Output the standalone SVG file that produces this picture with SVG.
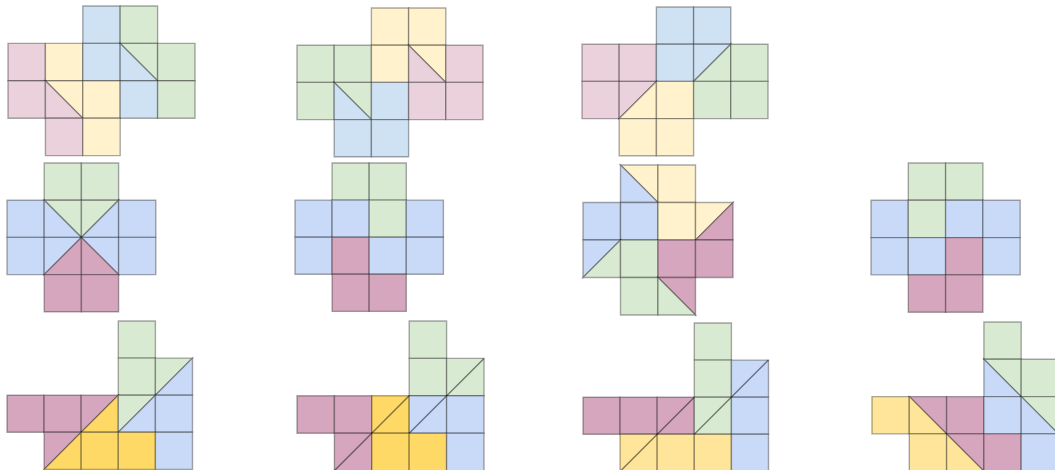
<svg xmlns="http://www.w3.org/2000/svg" width="1055" height="470" viewBox="0 0 1055 470">
<style>
rect, polygon, line { stroke:#000; stroke-opacity:.33; stroke-width:1.4; vector-effect:non-scaling-stroke; }
line { stroke-opacity:.48; }
.p1{fill:#ead1dc}.y1{fill:#fff2cc}.b1{fill:#cfe2f3}.g{fill:#d9ead3}
.b2{fill:#c9daf8}.p2{fill:#d5a6bd}.gd{fill:#ffd966}.y2{fill:#ffe599}
</style>
<rect x="0" y="0" width="1055" height="470" fill="#ffffff" style="stroke:none"/>

<g id="figA" transform="translate(8,6) scale(37.4)">
<rect x="2" y="0" width="1" height="1" class="b1"/><rect x="3" y="0" width="1" height="1" class="g"/>
<rect x="0" y="1" width="1" height="1" class="p1"/><rect x="1" y="1" width="1" height="1" class="y1"/><rect x="2" y="1" width="1" height="1" class="b1"/>
<polygon points="3,1 4,1 4,2" class="g"/><polygon points="3,1 3,2 4,2" class="b1"/>
<rect x="4" y="1" width="1" height="1" class="g"/>
<rect x="0" y="2" width="1" height="1" class="p1"/>
<polygon points="1,2 2,2 2,3" class="y1"/><polygon points="1,2 1,3 2,3" class="p1"/>
<rect x="2" y="2" width="1" height="1" class="y1"/><rect x="3" y="2" width="1" height="1" class="b1"/><rect x="4" y="2" width="1" height="1" class="g"/>
<rect x="1" y="3" width="1" height="1" class="p1"/><rect x="2" y="3" width="1" height="1" class="y1"/>
</g>

<g id="figB" transform="translate(297,8) scale(37.2)">
<rect x="2" y="0" width="1" height="1" class="y1"/><rect x="3" y="0" width="1" height="1" class="y1"/>
<rect x="0" y="1" width="1" height="1" class="g"/><rect x="1" y="1" width="1" height="1" class="g"/><rect x="2" y="1" width="1" height="1" class="y1"/>
<polygon points="3,1 4,1 4,2" class="y1"/><polygon points="3,1 3,2 4,2" class="p1"/>
<rect x="4" y="1" width="1" height="1" class="p1"/>
<rect x="0" y="2" width="1" height="1" class="g"/>
<polygon points="1,2 2,2 2,3" class="g"/><polygon points="1,2 1,3 2,3" class="b1"/>
<rect x="2" y="2" width="1" height="1" class="b1"/><rect x="3" y="2" width="1" height="1" class="p1"/><rect x="4" y="2" width="1" height="1" class="p1"/>
<rect x="1" y="3" width="1" height="1" class="b1"/><rect x="2" y="3" width="1" height="1" class="b1"/>
</g>

<g id="figC" transform="translate(582,7) scale(37.2)">
<rect x="2" y="0" width="1" height="1" class="b1"/><rect x="3" y="0" width="1" height="1" class="b1"/>
<rect x="0" y="1" width="1" height="1" class="p1"/><rect x="1" y="1" width="1" height="1" class="p1"/><rect x="2" y="1" width="1" height="1" class="b1"/>
<polygon points="3,1 4,1 3,2" class="b1"/><polygon points="4,1 4,2 3,2" class="g"/>
<rect x="4" y="1" width="1" height="1" class="g"/>
<rect x="0" y="2" width="1" height="1" class="p1"/>
<polygon points="1,2 2,2 1,3" class="p1"/><polygon points="2,2 2,3 1,3" class="y1"/>
<rect x="2" y="2" width="1" height="1" class="y1"/><rect x="3" y="2" width="1" height="1" class="g"/><rect x="4" y="2" width="1" height="1" class="g"/>
<rect x="1" y="3" width="1" height="1" class="y1"/><rect x="2" y="3" width="1" height="1" class="y1"/>
</g>

<g id="figD" transform="translate(7,163) scale(37.2)">
<rect x="1" y="0" width="1" height="1" class="g"/><rect x="2" y="0" width="1" height="1" class="g"/>
<rect x="0" y="1" width="1" height="1" class="b2"/>
<polygon points="1,1 2,1 2,2" class="g"/><polygon points="1,1 1,2 2,2" class="b2"/>
<polygon points="2,1 3,1 2,2" class="g"/><polygon points="3,1 3,2 2,2" class="b2"/>
<rect x="3" y="1" width="1" height="1" class="b2"/>
<rect x="0" y="2" width="1" height="1" class="b2"/>
<polygon points="1,2 2,2 1,3" class="b2"/><polygon points="2,2 2,3 1,3" class="p2"/>
<polygon points="2,2 3,2 3,3" class="b2"/><polygon points="2,2 2,3 3,3" class="p2"/>
<rect x="3" y="2" width="1" height="1" class="b2"/>
<rect x="1" y="3" width="1" height="1" class="p2"/><rect x="2" y="3" width="1" height="1" class="p2"/>
</g>

<g id="figE" transform="translate(295,163) scale(37.1)">
<rect x="1" y="0" width="1" height="1" class="g"/><rect x="2" y="0" width="1" height="1" class="g"/>
<rect x="0" y="1" width="1" height="1" class="b2"/><rect x="1" y="1" width="1" height="1" class="b2"/><rect x="2" y="1" width="1" height="1" class="g"/><rect x="3" y="1" width="1" height="1" class="b2"/>
<rect x="0" y="2" width="1" height="1" class="b2"/><rect x="1" y="2" width="1" height="1" class="p2"/><rect x="2" y="2" width="1" height="1" class="b2"/><rect x="3" y="2" width="1" height="1" class="b2"/>
<rect x="1" y="3" width="1" height="1" class="p2"/><rect x="2" y="3" width="1" height="1" class="p2"/>
</g>

<g id="figF" transform="translate(583,165) scale(37.5)">
<polygon points="1,0 2,0 2,1" class="y1"/><polygon points="1,0 1,1 2,1" class="b2"/>
<rect x="2" y="0" width="1" height="1" class="y1"/>
<rect x="0" y="1" width="1" height="1" class="b2"/><rect x="1" y="1" width="1" height="1" class="b2"/><rect x="2" y="1" width="1" height="1" class="y1"/>
<polygon points="3,1 4,1 3,2" class="y1"/><polygon points="4,1 4,2 3,2" class="p2"/>
<polygon points="0,2 1,2 0,3" class="b2"/><polygon points="1,2 1,3 0,3" class="g"/>
<rect x="1" y="2" width="1" height="1" class="g"/><rect x="2" y="2" width="1" height="1" class="p2"/><rect x="3" y="2" width="1" height="1" class="p2"/>
<rect x="1" y="3" width="1" height="1" class="g"/>
<polygon points="2,3 3,3 3,4" class="p2"/><polygon points="2,3 2,4 3,4" class="g"/>
</g>

<g id="figG" transform="translate(871,163) scale(37.3)">
<rect x="1" y="0" width="1" height="1" class="g"/><rect x="2" y="0" width="1" height="1" class="g"/>
<rect x="0" y="1" width="1" height="1" class="b2"/><rect x="1" y="1" width="1" height="1" class="g"/><rect x="2" y="1" width="1" height="1" class="b2"/><rect x="3" y="1" width="1" height="1" class="b2"/>
<rect x="0" y="2" width="1" height="1" class="b2"/><rect x="1" y="2" width="1" height="1" class="b2"/><rect x="2" y="2" width="1" height="1" class="p2"/><rect x="3" y="2" width="1" height="1" class="b2"/>
<rect x="1" y="3" width="1" height="1" class="p2"/><rect x="2" y="3" width="1" height="1" class="p2"/>
</g>

<g id="figH" transform="translate(7,321) scale(37.1)">
<rect x="3" y="0" width="1" height="1" class="g"/>
<rect x="3" y="1" width="1" height="1" class="g"/>
<polygon points="4,1 5,1 4,2" class="g"/><polygon points="5,1 5,2 4,2" class="b2"/>
<rect x="0" y="2" width="1" height="1" class="p2"/><rect x="1" y="2" width="1" height="1" class="p2"/>
<polygon points="2,2 3,2 2,3" class="p2"/><polygon points="3,2 3,3 2,3" class="gd"/>
<polygon points="3,2 4,2 3,3" class="g"/><polygon points="4,2 4,3 3,3" class="b2"/>
<rect x="4" y="2" width="1" height="1" class="b2"/>
<polygon points="1,3 2,3 1,4" class="p2"/><polygon points="2,3 2,4 1,4" class="gd"/>
<rect x="2" y="3" width="1" height="1" class="gd"/><rect x="3" y="3" width="1" height="1" class="gd"/><rect x="4" y="3" width="1" height="1" class="b2"/>
</g>

<g id="figI" transform="translate(297,321) scale(37.4)">
<rect x="3" y="0" width="1" height="1" class="g"/>
<rect x="3" y="1" width="1" height="1" class="g"/><rect x="4" y="1" width="1" height="1" class="g"/>
<rect x="0" y="2" width="1" height="1" class="p2"/><rect x="1" y="2" width="1" height="1" class="p2"/>
<rect x="2" y="2" width="1" height="1" class="gd"/><rect x="3" y="2" width="1" height="1" class="b2"/><rect x="4" y="2" width="1" height="1" class="b2"/>
<rect x="1" y="3" width="1" height="1" class="p2"/><rect x="2" y="3" width="1" height="1" class="gd"/><rect x="3" y="3" width="1" height="1" class="gd"/><rect x="4" y="3" width="1" height="1" class="b2"/>
<line x1="1" y1="4" x2="3" y2="2"/><line x1="3" y1="3" x2="5" y2="1"/>
</g>

<g id="figJ" transform="translate(583,323) scale(37.1)">
<rect x="3" y="0" width="1" height="1" class="g"/>
<rect x="3" y="1" width="1" height="1" class="g"/><rect x="4" y="1" width="1" height="1" class="b2"/>
<rect x="0" y="2" width="1" height="1" class="p2"/><rect x="1" y="2" width="1" height="1" class="p2"/>
<rect x="2" y="2" width="1" height="1" class="p2"/><rect x="3" y="2" width="1" height="1" class="g"/><rect x="4" y="2" width="1" height="1" class="b2"/>
<rect x="1" y="3" width="1" height="1" class="y2"/><rect x="2" y="3" width="1" height="1" class="y2"/><rect x="3" y="3" width="1" height="1" class="y2"/><rect x="4" y="3" width="1" height="1" class="b2"/>
<line x1="1" y1="4" x2="3" y2="2"/><line x1="3" y1="3" x2="5" y2="1"/>
</g>

<g id="figK" transform="translate(872,322) scale(37.3)">
<rect x="3" y="0" width="1" height="1" class="g"/>
<polygon points="3,1 4,1 4,2" class="g"/><polygon points="3,1 3,2 4,2" class="b2"/>
<rect x="4" y="1" width="1" height="1" class="g"/>
<rect x="0" y="2" width="1" height="1" class="y2"/>
<polygon points="1,2 2,2 2,3" class="p2"/><polygon points="1,2 1,3 2,3" class="y2"/>
<rect x="2" y="2" width="1" height="1" class="p2"/><rect x="3" y="2" width="1" height="1" class="b2"/>
<polygon points="4,2 5,2 5,3" class="g"/><polygon points="4,2 4,3 5,3" class="b2"/>
<rect x="1" y="3" width="1" height="1" class="y2"/>
<polygon points="2,3 3,3 3,4" class="p2"/><polygon points="2,3 2,4 3,4" class="y2"/>
<rect x="3" y="3" width="1" height="1" class="p2"/><rect x="4" y="3" width="1" height="1" class="b2"/>
</g>
</svg>
